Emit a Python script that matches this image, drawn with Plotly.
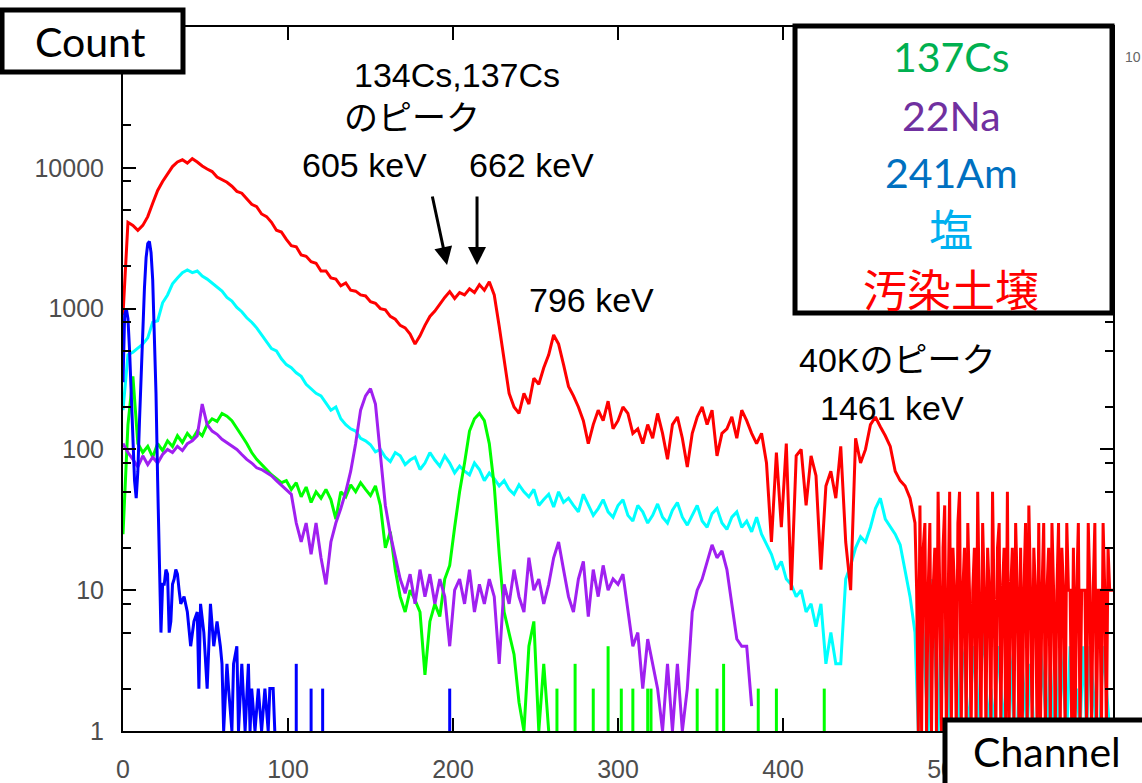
import plotly.graph_objects as go

# ---------------------------------------------------------------
# Gamma-ray spectra (counts per channel, log scale)
# ---------------------------------------------------------------

ch_step3_to480 = list(range(0, 480, 3))

# 汚染土壌 (contaminated soil): every 3 channels up to 477, then every channel
soil_ch = ch_step3_to480 + list(range(480, 601))
soil_counts = [
    900, 4100, 3900, 3600, 3900, 4500, 5600, 6900, 8000, 9000,
    10200, 11000, 11400, 10800, 11600, 11000, 10300, 9800, 9400, 8600,
    8200, 7900, 7400, 6800, 6600, 6000, 5500, 5300, 4700, 4500,
    4100, 3600, 3500, 3100, 2800, 2750, 2400, 2350, 2150, 2100,
    1850, 1850, 1650, 1620, 1450, 1520, 1350, 1330, 1250, 1230,
    1120, 1090, 1000, 980, 880, 840, 760, 730, 660, 560,
    640, 760, 880, 960, 1080, 1200, 1320, 1180, 1300, 1250,
    1380, 1300, 1480, 1350, 1550, 1250, 750, 420, 250, 200,
    180, 250, 210, 320, 290, 380, 470, 650, 560, 400,
    280, 240, 200, 160, 110, 150, 190, 160, 220, 140,
    160, 200, 180, 130, 140, 110, 150, 120, 180, 130,
    85, 150, 170, 120, 75, 130, 170, 200, 150, 190,
    90, 130, 140, 170, 120, 190, 160, 130, 110, 130,
    80, 22, 95, 28, 110, 10, 90, 100, 40, 90,
    65, 14, 55, 70, 45, 105, 22, 10, 120, 80,
    100, 150, 170, 145, 125, 105, 70, 60, 55, 45,
    # channels 480-600
    30, 10, 1, 40, 1, 20, 30, 1, 10, 30,
    1, 10, 20, 1, 50, 10, 1, 20, 40, 1,
    10, 50, 1, 20, 10, 1, 30, 50, 1, 10,
    20, 1, 30, 10, 1, 10, 20, 1, 50, 10,
    1, 30, 10, 1, 20, 10, 1, 50, 10, 1,
    20, 30, 1, 10, 20, 1, 50, 1, 10, 20,
    1, 30, 10, 1, 20, 1, 10, 30, 1, 40,
    10, 1, 20, 10, 1, 30, 1, 10, 30, 1,
    10, 20, 1, 30, 10, 1, 10, 30, 1, 20,
    10, 1, 30, 10, 10, 1, 20, 1, 10, 30,
    1, 10, 10, 10, 1, 30, 10, 1, 10, 30,
    1, 10, 10, 1, 30, 10, 1, 20, 10, 10,
    10,
]

# 塩 (salt): every 3 channels up to 477, then every 2 channels
salt_ch = ch_step3_to480 + list(range(480, 601, 2))
salt_counts = [
    190, 470, 490, 520, 560, 620, 800, 820, 1100, 1250,
    1500, 1650, 1800, 1880, 1800, 1850, 1700, 1620, 1520, 1420,
    1330, 1200, 1130, 1020, 950, 860, 800, 730, 650, 590,
    520, 500, 440, 400, 380, 350, 330, 290, 270, 250,
    240, 215, 190, 200, 165, 150, 140, 135, 120, 115,
    108, 96, 100, 88, 82, 95, 90, 78, 84, 88,
    72, 80, 95, 84, 76, 90, 80, 68, 76, 70,
    66, 80, 72, 60, 68, 62, 55, 60, 52, 48,
    56, 50, 46, 52, 40, 44, 48, 39, 50, 42,
    45, 40, 36, 48, 40, 34, 38, 44, 36, 33,
    40, 44, 34, 31, 40, 36, 30, 34, 41, 33,
    30, 37, 42, 33, 29, 34, 40, 31, 28, 35,
    38, 30, 27, 33, 36, 28, 31, 26, 33, 25,
    21, 18, 14, 16, 12, 11, 9, 10, 7, 8,
    5.5, 8, 3, 5, 3, 3, 12, 15, 20, 24,
    22, 28, 38, 45, 32, 28, 25, 21, 14, 9,
    # channels 480-600
    5, 1, 8, 3, 1, 12, 4, 1, 6, 3,
    1, 12, 5, 1, 4, 3, 1, 2, 4, 1,
    3, 5, 1, 2, 1, 4, 2, 1, 5, 3,
    1, 1, 4, 2, 1, 3, 1, 1, 4, 2,
    1, 3, 1, 1, 4, 2, 1, 4, 1, 2,
    1, 4, 1, 4, 2, 1, 1, 4, 2, 1, 1,
]

# 137Cs
cs137_ch = list(range(0, 259, 3))
cs137_counts = [
    25, 150, 330, 110, 95, 105, 88, 110, 98, 115,
    105, 125, 112, 130, 118, 135, 125, 150, 165, 158,
    180, 172, 160, 140, 125, 110, 95, 85, 78, 72,
    66, 62, 58, 60, 52, 58, 46, 54, 42, 50,
    45, 52, 44, 32, 50, 46, 56, 50, 58, 52,
    47, 55, 40, 20, 26, 14, 9, 7, 10, 8.5,
    7, 2.5, 6, 8, 6.5, 12, 15, 28, 50, 80,
    135, 165, 180, 160, 110, 55, 18, 7, 5, 3.5,
    1.6, 1, 4, 6, 1, 3, 1,
]
# isolated single-channel hits above channel 258
cs137_hit_ch = [263, 274, 285, 294, 302, 309, 318, 320, 348, 360, 364, 385, 396, 425]
cs137_hit_counts = [2, 3, 2, 4, 2, 2, 2, 2, 2, 2, 3, 2, 2, 2]

# 22Na
na22_ch = list(range(0, 382, 3))
na22_counts = [
    110, 95, 85, 75, 90, 78, 88, 80, 92, 100,
    95, 105, 98, 110, 115, 125, 210, 150, 135, 128,
    118, 112, 105, 100, 92, 85, 80, 74, 72, 68,
    65, 60, 56, 52, 48, 30, 22, 30, 18, 30,
    17, 11, 22, 30, 38, 50, 70, 110, 190, 240,
    270, 210, 90, 40, 25, 17, 12, 9.5, 13, 8,
    14, 9, 13, 8, 12, 9, 4, 10, 12, 8,
    14, 7, 11, 8, 12, 9, 3, 11, 8, 14,
    9, 7, 17, 10, 12, 8, 11, 17, 22, 14,
    9, 7, 12, 16, 6.5, 14, 9, 15, 10, 12,
    11, 13, 7, 4, 5, 2, 4.5, 3, 2, 1,
    3, 1, 3, 1, 2, 7, 10, 12, 16, 21,
    17, 19, 14, 8, 4.5, 4, 4, 1.5,
]

# 241Am
am241_ch = [
    0, 1, 2, 3, 4, 5, 6, 7, 8, 9, 10, 11, 12, 13, 14, 15, 16, 17, 18, 19,
    20, 21, 22, 23, 24, 25, 26, 27, 28, 29, 30, 31, 32, 33, 34, 35, 37, 39,
    41, 43, 45, 46, 47, 49, 51, 53, 55, 57, 59, 60, 61, 63, 64, 66, 67, 69,
    70, 72, 74, 76, 77, 78, 80, 82, 84, 86, 88, 89, 91, 92,
]
am241_counts = [
    300, 900, 1000, 850, 500, 250, 120, 60, 45, 70, 160, 350, 700, 1400, 2300, 2900, 3000, 2500, 1600, 700,
    250, 60, 14, 5, 11, 11, 14, 13, 5, 6, 11, 12, 14, 13, 10, 8, 9, 7,
    4, 6, 7, 2, 8, 5, 2, 8, 4, 6, 4, 3, 1, 3, 2, 1, 3, 4,
    1, 3, 1, 3, 1, 2, 1, 2, 1, 2, 1, 2, 2, 1,
]
am241_hit_ch = [105, 114, 121, 198]
am241_hit_counts = [3, 2, 2, 2]

# axis ticks
x_tick_vals = [0, 100, 200, 300, 400, 500]
y_tick_vals = [1, 10, 100, 1000, 10000]
y_tick_text = ["1", "10", "100", "1000", "10000"]
y_minor_vals = [2, 5, 8, 20, 50, 80, 200, 500, 800, 2000, 5000, 8000, 20000, 50000, 80000]


def with_hits(ch, counts, hit_ch, hit_counts):
    """Append single-channel hits as vertical strokes rising from 1."""
    xs, ys = list(ch), list(counts)
    for c, v in zip(hit_ch, hit_counts):
        xs += [None, c, c]
        ys += [None, 1, v]
    return xs, ys


fig = go.Figure()

series = [
    (salt_ch, salt_counts, "#00ffff"),
    (*with_hits(cs137_ch, cs137_counts, cs137_hit_ch, cs137_hit_counts), "#00ff00"),
    (na22_ch, na22_counts, "#a020f0"),
    (soil_ch, soil_counts, "#ff0000"),
    (*with_hits(am241_ch, am241_counts, am241_hit_ch, am241_hit_counts), "#0000ff"),
]
for xs, ys, col in series:
    fig.add_trace(go.Scatter(
        x=xs, y=ys, mode="lines",
        line=dict(color=col, width=3),
        connectgaps=False, showlegend=False, hoverinfo="skip",
    ))

TICK_FONT = dict(family="Liberation Sans, Arial, sans-serif", size=25, color="#4d4d4d")

fig.update_xaxes(
    range=[0, 600], showgrid=False, zeroline=False, automargin=False,
    showline=True, linecolor="black", linewidth=2, mirror="ticks",
    ticks="inside", ticklen=13, tickwidth=1.5, tickcolor="black",
    tickvals=x_tick_vals, tickfont=TICK_FONT, ticklabelstandoff=15,
)
fig.update_yaxes(
    type="log", range=[0, 5], showgrid=False, zeroline=False, automargin=False,
    showline=True, linecolor="black", linewidth=2, mirror="ticks",
    ticks="inside", ticklen=13, tickwidth=1.5, tickcolor="black",
    tickvals=y_tick_vals, ticktext=y_tick_text, tickfont=TICK_FONT,
    ticklabelstandoff=12,
    minor=dict(tickvals=y_minor_vals, ticks="inside", ticklen=8,
               tickwidth=1.5, tickcolor="black"),
)

BOX = dict(type="rect", xref="paper", yref="paper",
           line=dict(color="black", width=5), fillcolor="white", layer="above")
fig.add_shape(**BOX, x0=-0.1222, x1=0.0606, y0=0.936, y1=1.024)
fig.add_shape(**BOX, x0=0.6788, x1=0.999, y0=0.5938, y1=1.0014)
fig.add_shape(**BOX, x0=0.8303, x1=1.047, y0=-0.098, y1=0.0156)

LABEL_FONT = "Lato, Noto Sans CJK JP, sans-serif"
NOTE_FONT = "Liberation Sans, Arial, Noto Sans CJK JP, sans-serif"


def note(text, x, y, size=34, color="black", family=NOTE_FONT):
    fig.add_annotation(text=text, x=x, y=y, xref="paper", yref="paper",
                       showarrow=False, font=dict(family=family, size=size, color=color),
                       xanchor="center", yanchor="middle")


note("Count", -0.0333, 0.9787, size=41, family=LABEL_FONT)
note("Channel", 0.9333, -0.0298, size=41, family=LABEL_FONT)

note("134Cs,137Cs", 0.3374, 0.9318)
note("のピーク", 0.2919, 0.8707)
note("605 keV", 0.2444, 0.804)
note("662 keV", 0.4131, 0.804)
note("796 keV", 0.4737, 0.6122)
note("40Kのピーク", 0.7828, 0.527)
note("1461 keV", 0.7768, 0.4588)

legend_items = [
    ("137Cs", "#00b050", 0.9574, 41),
    ("22Na", "#7030a0", 0.875, 41),
    ("241Am", "#0070c0", 0.794, 41),
    ("塩", "#00b0f0", 0.7116, 44),
    ("汚染土壌", "#ff0000", 0.6264, 44),
]
for txt, col, yy, sz in legend_items:
    note(txt, 0.8364, yy, size=sz, color=col, family=LABEL_FONT)

# partial right-axis label at the page edge
fig.add_annotation(text="10", x=1.01, y=0.957, xref="paper", yref="paper",
                   showarrow=False, xanchor="left", yanchor="middle",
                   font=dict(family="Liberation Sans, Arial, sans-serif", size=14, color="#666666"))

# arrows to the 605 / 662 keV peaks
for hx, axo in [(0.3273, -15), (0.3576, 0)]:
    fig.add_annotation(text="", x=hx, y=0.6619, xref="paper", yref="paper",
                       showarrow=True, ax=axo, ay=-70, arrowhead=2, arrowsize=1.2,
                       arrowwidth=3, arrowcolor="black")

fig.update_layout(
    width=1142, height=783,
    margin=dict(l=123, r=29, t=27, b=52),
    plot_bgcolor="white", paper_bgcolor="white",
)

fig.write_html("out.html")
